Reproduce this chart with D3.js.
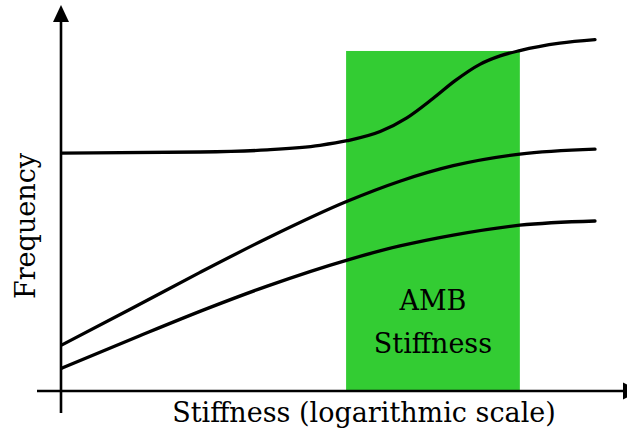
<!DOCTYPE html>
<html>
<head>
<meta charset="utf-8">
<script src="https://cdn.jsdelivr.net/npm/d3@7"></script>
<style>
  html, body { margin: 0; padding: 0; background: #fff; }
  svg { display: block; }
  text { font-family: "DejaVu Serif", "Liberation Serif", serif; fill: #000; }
</style>
</head>
<body>
<svg id="chart" width="627" height="432"></svg>
<script>
// Stiffness positions in log10 units (0..10) and frequency in arbitrary units (0..10)
const stiffness1 = [0, 2.59, 3.85, 4.84, 5.35, 5.97, 6.47, 6.96, 7.37, 7.84, 8.22, 8.59, 9.34, 10];
const freqMode1  = [6.76, 6.79, 6.85, 6.98, 7.11, 7.37, 7.76, 8.31, 8.81, 9.28, 9.52, 9.67, 9.88, 9.98];

const stiffness2 = [0, 1.28, 2.59, 3.85, 5.35, 6.34, 7.34, 8.59, 10];
const freqMode2  = [1.31, 2.32, 3.37, 4.34, 5.39, 5.96, 6.40, 6.73, 6.87];

const stiffness3 = [0, 1.46, 2.72, 3.85, 5.35, 6.34, 7.34, 8.59, 10];
const freqMode3  = [0.65, 1.57, 2.34, 2.98, 3.72, 4.12, 4.43, 4.71, 4.83];

// AMB stiffness band (log10 units) and its height (frequency units)
const ambBand = [5.33, 8.59];
const ambTop = 9.66;
const ambLabel = ["AMB", "Stiffness"];

const xLabel = "Stiffness (logarithmic scale)";
const yLabel = "Frequency";

const svg = d3.select("#chart");

const x = d3.scaleLinear().domain([0, 10]).range([62, 595]);
const y = d3.scaleLinear().domain([0, 10]).range([391, 39]);

// AMB band
svg.append("rect")
  .attr("x", x(ambBand[0]))
  .attr("y", y(ambTop))
  .attr("width", x(ambBand[1]) - x(ambBand[0]))
  .attr("height", y(0) - y(ambTop))
  .attr("fill", "#33cc33");

svg.append("text")
  .attr("text-anchor", "middle")
  .attr("font-size", 27)
  .selectAll("tspan")
  .data(ambLabel)
  .join("tspan")
  .attr("x", (x(ambBand[0]) + x(ambBand[1])) / 2)
  .attr("y", (d, i) => 310 + i * 43)
  .text(d => d);

// Axes with arrowheads
const axisG = svg.append("g").attr("stroke", "#000").attr("stroke-width", 2.6);
axisG.append("line")
  .attr("x1", x(0) - 1).attr("x2", x(0) - 1)
  .attr("y1", 413).attr("y2", 20);
axisG.append("line")
  .attr("x1", 37).attr("x2", 625)
  .attr("y1", y(0)).attr("y2", y(0));

svg.append("path")
  .attr("d", `M${x(0) - 1},5 L${x(0) - 9},22 L${x(0) + 7},22 Z`)
  .attr("fill", "#000");
svg.append("path")
  .attr("d", `M640,${y(0)} L623,${y(0) - 8.5} L623,${y(0) + 8.5} Z`)
  .attr("fill", "#000");

// Frequency curves (x-parameterised smoothing)
const line = d3.line()
  .x(d => x(d[0]))
  .y(d => y(d[1]))
  .curve(d3.curveMonotoneX);

const series = [
  d3.zip(stiffness1, freqMode1),
  d3.zip(stiffness2, freqMode2),
  d3.zip(stiffness3, freqMode3)
];

svg.append("g")
  .selectAll("path")
  .data(series)
  .join("path")
  .attr("d", line)
  .attr("fill", "none")
  .attr("stroke", "#000")
  .attr("stroke-width", 3.3)
  .attr("stroke-linecap", "round");

// Axis titles
svg.append("text")
  .attr("x", 364)
  .attr("y", 422)
  .attr("text-anchor", "middle")
  .attr("font-size", 27)
  .text(xLabel);

svg.append("text")
  .attr("transform", "translate(35,226) rotate(-90)")
  .attr("text-anchor", "middle")
  .attr("font-size", 27)
  .text(yLabel);
</script>
</body>
</html>
